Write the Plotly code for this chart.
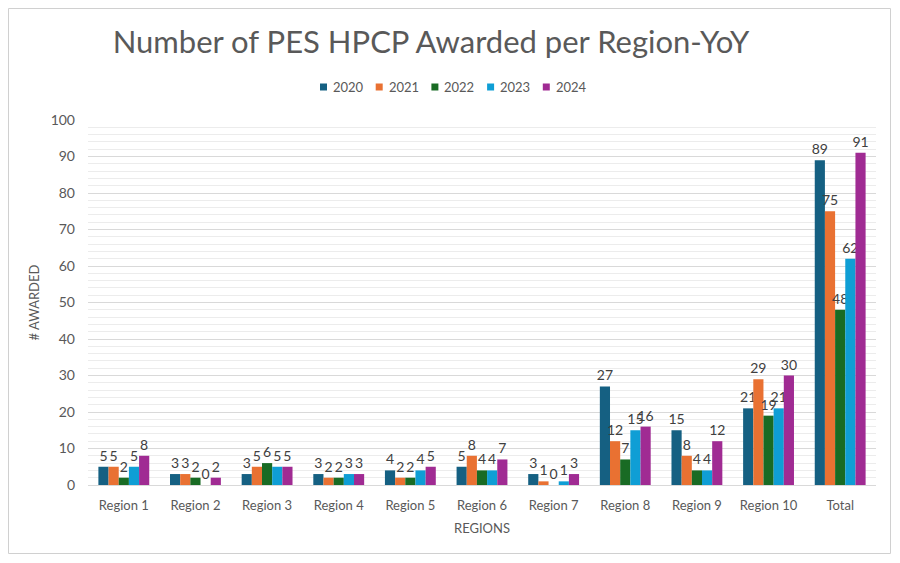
import plotly.graph_objects as go

# data
regions = ["Region 1", "Region 2", "Region 3", "Region 4", "Region 5", "Region 6",
           "Region 7", "Region 8", "Region 9", "Region 10", "Total"]
years = ["2020", "2021", "2022", "2023", "2024"]
y2020 = [5, 3, 3, 3, 4, 5, 3, 27, 15, 21, 89]
y2021 = [5, 3, 5, 2, 2, 8, 1, 12, 8, 29, 75]
y2022 = [2, 2, 6, 2, 2, 4, 0, 7, 4, 19, 48]
y2023 = [5, 0, 5, 3, 4, 4, 1, 15, 4, 21, 62]
y2024 = [8, 2, 5, 3, 5, 7, 3, 16, 12, 30, 91]
series = [y2020, y2021, y2022, y2023, y2024]
colors = ["#156082", "#E97132", "#196B24", "#0F9ED5", "#A02B93"]

# the page puts the figure 8px in from the top left corner
W, H = 884, 547
ml, mr, mt, mb = 80, 16, 112, 70
pw = W - ml - mr
ph = H - mt - mb

fig = go.Figure()
for name, vals, col in zip(years, series, colors):
    fig.add_trace(go.Bar(x=regions, y=vals, name=name, showlegend=False,
                         marker=dict(color=col, line=dict(width=0)),
                         text=vals, textposition="outside", cliponaxis=False,
                         constraintext="none",
                         textfont=dict(size=14, color="#404040")))

# light outer frame round the whole chart
fig.add_shape(type="rect", xref="paper", yref="paper",
              x0=-(ml - 0.5) / pw, x1=1 + (mr - 1.5) / pw,
              y0=-(mb - 1.5) / ph, y1=1 + (mt - 0.5) / ph,
              line=dict(color="#d0d0d0", width=1), fillcolor="rgba(0,0,0,0)", layer="below")

# compact legend like the original: small squares with the year next to them
leg_x0 = 312   # px in figure, left of first square
leg_step = 55.7
leg_yc = 79    # px in figure, legend centre line
sq = 7
for i, (name, col) in enumerate(zip(years, colors)):
    left = leg_x0 + i * leg_step
    fig.add_shape(type="rect", xref="paper", yref="paper",
                  x0=(left - ml) / pw, x1=(left + sq - ml) / pw,
                  y0=1 + (mt - leg_yc - sq / 2) / ph, y1=1 + (mt - leg_yc + sq / 2) / ph,
                  line=dict(width=0), fillcolor=col)
    fig.add_annotation(text=name, xref="paper", yref="paper",
                       x=(left + sq + 4 - ml) / pw, y=1 + (mt - leg_yc) / ph,
                       xanchor="left", yanchor="middle", showarrow=False,
                       font=dict(size=13, color="#595959"))

fig.update_layout(
    width=W, height=H,
    margin=dict(l=ml, r=mr, t=mt, b=mb),
    paper_bgcolor="white", plot_bgcolor="white",
    font=dict(family="Lato", color="#595959", size=13),
    title=dict(text="Number of PES HPCP Awarded per Region-YoY",
               x=423 / W, xref="container", xanchor="center", y=1 - 34 / H, yanchor="middle",
               font=dict(size=31, color="#595959", family="Lato")),
    barmode="group", bargap=0.29, bargroupgap=0,
    xaxis=dict(title=dict(text="REGIONS", font=dict(size=13, color="#595959"), standoff=12),
               showline=True, linecolor="#d9d9d9", ticks="", tickfont=dict(size=13),
               ticklabelstandoff=8),
    yaxis=dict(title=dict(text="# AWARDED", font=dict(size=13, color="#595959"), standoff=8),
               range=[0, 100], dtick=10, showgrid=True, gridcolor="#d9d9d9",
               zeroline=False, ticks="", tickfont=dict(size=14), ticklabelstandoff=12,
               minor=dict(dtick=2, showgrid=True, gridcolor="#ececec")),
)

fig.write_html("out.html")
